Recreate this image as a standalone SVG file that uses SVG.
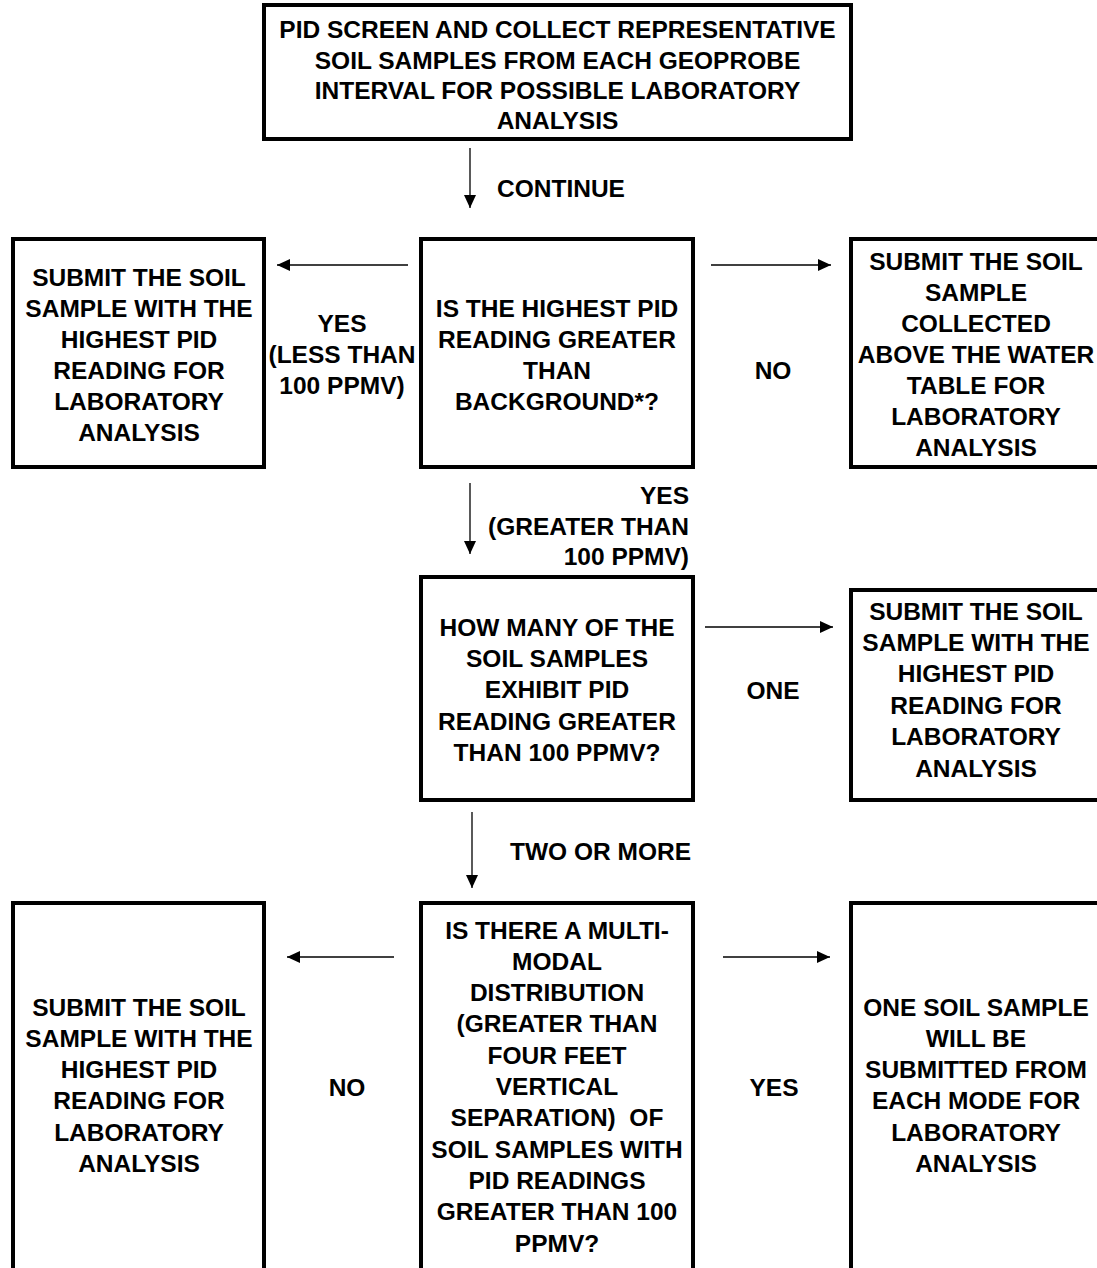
<svg xmlns="http://www.w3.org/2000/svg" width="1097" height="1268" viewBox="0 0 1097 1268">
<style>
.box{fill:#fff;stroke:#000;stroke-width:4}
.t{font-family:"Liberation Sans",Arial,Helvetica,sans-serif;font-weight:bold;font-size:24.5px;fill:#000;text-anchor:middle}
.s{text-anchor:start}
.e{text-anchor:end}
.c{stroke:#000;stroke-width:1.3;fill:none;marker-end:url(#ah)}
</style>
<defs>
<marker id="ah" markerUnits="userSpaceOnUse" markerWidth="14" markerHeight="12" refX="13" refY="6" orient="auto">
<path d="M0,0 L13,6 L0,12 Z" fill="#000"/>
</marker>
</defs>
<rect width="1097" height="1268" fill="#fff"/>
<g id="connectors">
<line class="c" x1="470" y1="148" x2="470" y2="208"/>
<line class="c" x1="408" y1="265" x2="277" y2="265"/>
<line class="c" x1="711" y1="265" x2="831" y2="265"/>
<line class="c" x1="470" y1="483" x2="470" y2="554"/>
<line class="c" x1="705" y1="627" x2="833" y2="627"/>
<line class="c" x1="472" y1="812" x2="472" y2="888"/>
<line class="c" x1="394" y1="957" x2="287" y2="957"/>
<line class="c" x1="723" y1="957" x2="830" y2="957"/>
<text class="t s" x="497" y="196.5">CONTINUE</text>
<text class="t" x="342"><tspan x="342" y="331.5">YES</tspan><tspan x="342" y="362.5">(LESS THAN</tspan><tspan x="342" y="393.5">100 PPMV)</tspan></text>
<text class="t" x="773" y="378.5">NO</text>
<text class="t e"><tspan x="689" y="503.5">YES</tspan><tspan x="689" y="534.5">(GREATER THAN</tspan><tspan x="689" y="564.5">100 PPMV)</tspan></text>
<text class="t" x="773" y="698.5">ONE</text>
<text class="t s" x="510" y="859.5">TWO OR MORE</text>
<text class="t" x="347" y="1095.5">NO</text>
<text class="t" x="774" y="1095.5">YES</text>
</g>
<g id="n_start">
<rect class="box" x="264" y="5" width="587" height="134"/>
<text class="t"><tspan x="557.5" y="37.5">PID SCREEN AND COLLECT REPRESENTATIVE</tspan><tspan x="557.5" y="68.5">SOIL SAMPLES FROM EACH GEOPROBE</tspan><tspan x="557.5" y="99">INTERVAL FOR POSSIBLE LABORATORY</tspan><tspan x="557.5" y="129">ANALYSIS</tspan></text>
</g>
<g id="n_submit_highest_1">
<rect class="box" x="13" y="239" width="251" height="228"/>
<text class="t"><tspan x="139" y="285.5">SUBMIT THE SOIL</tspan><tspan x="139" y="316.5">SAMPLE WITH THE</tspan><tspan x="139" y="347.5">HIGHEST PID</tspan><tspan x="139" y="378.5">READING FOR</tspan><tspan x="139" y="409.5">LABORATORY</tspan><tspan x="139" y="440.5">ANALYSIS</tspan></text>
</g>
<g id="n_decision_background">
<rect class="box" x="421" y="239" width="272" height="228"/>
<text class="t"><tspan x="557" y="316.5">IS THE HIGHEST PID</tspan><tspan x="557" y="347.5">READING GREATER</tspan><tspan x="557" y="378.5">THAN</tspan><tspan x="557" y="409.5">BACKGROUND*?</tspan></text>
</g>
<g id="n_submit_water_table">
<rect class="box" x="851" y="239" width="260" height="228"/>
<text class="t"><tspan x="976" y="269.5">SUBMIT THE SOIL</tspan><tspan x="976" y="300.5">SAMPLE</tspan><tspan x="976" y="331.5">COLLECTED</tspan><tspan x="976" y="362.5">ABOVE THE WATER</tspan><tspan x="976" y="393.5">TABLE FOR</tspan><tspan x="976" y="424.5">LABORATORY</tspan><tspan x="976" y="455.5">ANALYSIS</tspan></text>
</g>
<g id="n_how_many">
<rect class="box" x="421" y="577" width="272" height="223"/>
<text class="t"><tspan x="557" y="635.5">HOW MANY OF THE</tspan><tspan x="557" y="666.5">SOIL SAMPLES</tspan><tspan x="557" y="698">EXHIBIT PID</tspan><tspan x="557" y="729.5">READING GREATER</tspan><tspan x="557" y="761">THAN 100 PPMV?</tspan></text>
</g>
<g id="n_submit_highest_2">
<rect class="box" x="851" y="590" width="260" height="210"/>
<text class="t"><tspan x="976" y="619.5">SUBMIT THE SOIL</tspan><tspan x="976" y="650.5">SAMPLE WITH THE</tspan><tspan x="976" y="682">HIGHEST PID</tspan><tspan x="976" y="713.5">READING FOR</tspan><tspan x="976" y="745">LABORATORY</tspan><tspan x="976" y="776.5">ANALYSIS</tspan></text>
</g>
<g id="n_submit_highest_3">
<rect class="box" x="13" y="903" width="251" height="400"/>
<text class="t"><tspan x="139" y="1015.5">SUBMIT THE SOIL</tspan><tspan x="139" y="1046.8">SAMPLE WITH THE</tspan><tspan x="139" y="1078.1">HIGHEST PID</tspan><tspan x="139" y="1109.4">READING FOR</tspan><tspan x="139" y="1140.7">LABORATORY</tspan><tspan x="139" y="1172">ANALYSIS</tspan></text>
</g>
<g id="n_multimodal">
<rect class="box" x="421" y="903" width="272" height="400"/>
<text class="t" style="white-space:pre"><tspan x="557" y="938.5">IS THERE A MULTI-</tspan><tspan x="557" y="969.8">MODAL</tspan><tspan x="557" y="1001.1">DISTRIBUTION</tspan><tspan x="557" y="1032.4">(GREATER THAN</tspan><tspan x="557" y="1063.7">FOUR FEET</tspan><tspan x="557" y="1095">VERTICAL</tspan><tspan x="557" y="1126.3">SEPARATION)  OF</tspan><tspan x="557" y="1157.6">SOIL SAMPLES WITH</tspan><tspan x="557" y="1188.9">PID READINGS</tspan><tspan x="557" y="1220.2">GREATER THAN 100</tspan><tspan x="557" y="1251.5">PPMV?</tspan></text>
</g>
<g id="n_each_mode">
<rect class="box" x="851" y="903" width="260" height="400"/>
<text class="t"><tspan x="976" y="1015.5">ONE SOIL SAMPLE</tspan><tspan x="976" y="1046.8">WILL BE</tspan><tspan x="976" y="1078.1">SUBMITTED FROM</tspan><tspan x="976" y="1109.4">EACH MODE FOR</tspan><tspan x="976" y="1140.7">LABORATORY</tspan><tspan x="976" y="1172">ANALYSIS</tspan></text>
</g>
</svg>
